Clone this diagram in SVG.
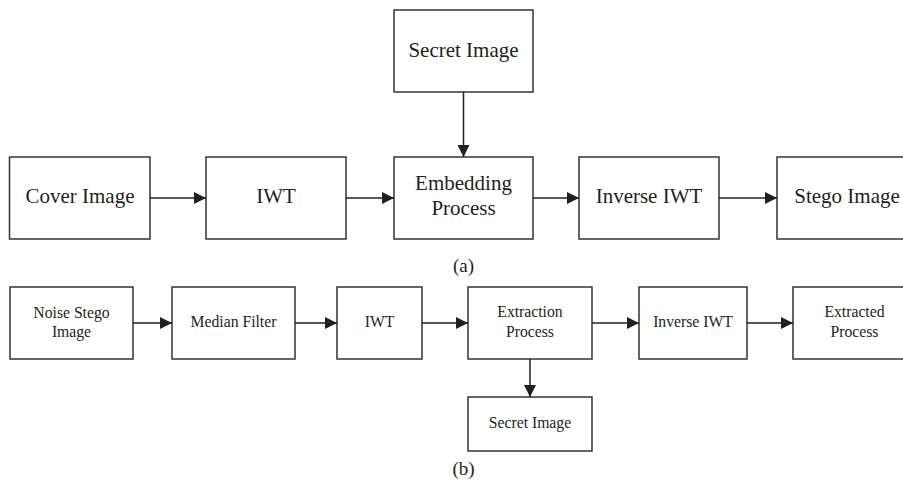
<svg xmlns="http://www.w3.org/2000/svg" width="903" height="489" viewBox="0 0 903 489">
<style>
.box{fill:#fff;stroke:#333;stroke-width:1.5}
.t{font-family:"Liberation Serif","Times New Roman",serif;fill:#231f20;text-anchor:middle}
.big{font-size:21px}
.sm{font-size:15.7px}
.cap{font-family:"Liberation Serif","Times New Roman",serif;fill:#231f20;text-anchor:middle;font-size:19px}
.c{stroke:#231f20;stroke-width:1.5;fill:none;marker-end:url(#ah)}
</style>
<defs>
<marker id="ah" markerUnits="userSpaceOnUse" markerWidth="12" markerHeight="12" refX="12" refY="6" orient="auto">
<path d="M0,0 L12,6 L0,12 z" fill="#231f20"/>
</marker>
</defs>
<rect width="903" height="489" fill="#fff"/>
<g id="a-secret"><rect class="box" x="394" y="10" width="139" height="82"/><text class="t big" x="463.5" y="57">Secret Image</text></g>
<g id="a-cover"><rect class="box" x="9.5" y="157" width="140.5" height="82"/><text class="t big" x="80" y="203">Cover Image</text></g>
<g id="a-iwt"><rect class="box" x="206" y="157" width="140" height="82"/><text class="t big" x="276" y="203">IWT</text></g>
<g id="a-embed"><rect class="box" x="394" y="157" width="139" height="82"/><text class="t big" x="463.5" y="190">Embedding</text><text class="t big" x="463.5" y="215">Process</text></g>
<g id="a-inverse"><rect class="box" x="579" y="157" width="140" height="82"/><text class="t big" x="649" y="203">Inverse IWT</text></g>
<g id="a-stego"><rect class="box" x="777" y="157" width="140" height="82"/><text class="t big" x="847" y="203">Stego Image</text></g>
<text class="cap" x="463.5" y="272">(a)</text>
<g id="b-noise"><rect class="box" x="10" y="287" width="123" height="72"/><text class="t sm" x="71.5" y="318">Noise Stego</text><text class="t sm" x="71.5" y="337">Image</text></g>
<g id="b-median"><rect class="box" x="172" y="287" width="123" height="72"/><text class="t sm" x="233.5" y="327">Median Filter</text></g>
<g id="b-iwt"><rect class="box" x="337" y="287" width="85" height="72"/><text class="t sm" x="379.5" y="327">IWT</text></g>
<g id="b-extract"><rect class="box" x="468" y="287" width="124" height="72"/><text class="t sm" x="530" y="317">Extraction</text><text class="t sm" x="530" y="337">Process</text></g>
<g id="b-inverse"><rect class="box" x="639" y="287" width="108" height="72"/><text class="t sm" x="693" y="327">Inverse IWT</text></g>
<g id="b-extracted"><rect class="box" x="793" y="287" width="123" height="72"/><text class="t sm" x="854.5" y="317">Extracted</text><text class="t sm" x="854.5" y="337">Process</text></g>
<g id="b-secret"><rect class="box" x="468" y="397" width="124" height="54"/><text class="t sm" x="530" y="428">Secret Image</text></g>
<text class="cap" x="463.5" y="475">(b)</text>
<g id="connectors">
<line class="c" x1="150" y1="198" x2="206" y2="198"/>
<line class="c" x1="346" y1="198" x2="394" y2="198"/>
<line class="c" x1="533" y1="198" x2="579" y2="198"/>
<line class="c" x1="719" y1="198" x2="777" y2="198"/>
<line class="c" x1="463.5" y1="92" x2="463.5" y2="157"/>
<line class="c" x1="133" y1="323" x2="172" y2="323"/>
<line class="c" x1="295" y1="323" x2="337" y2="323"/>
<line class="c" x1="422" y1="323" x2="468" y2="323"/>
<line class="c" x1="592" y1="323" x2="639" y2="323"/>
<line class="c" x1="747" y1="323" x2="793" y2="323"/>
<line class="c" x1="530" y1="359" x2="530" y2="397"/>
</g>
</svg>
